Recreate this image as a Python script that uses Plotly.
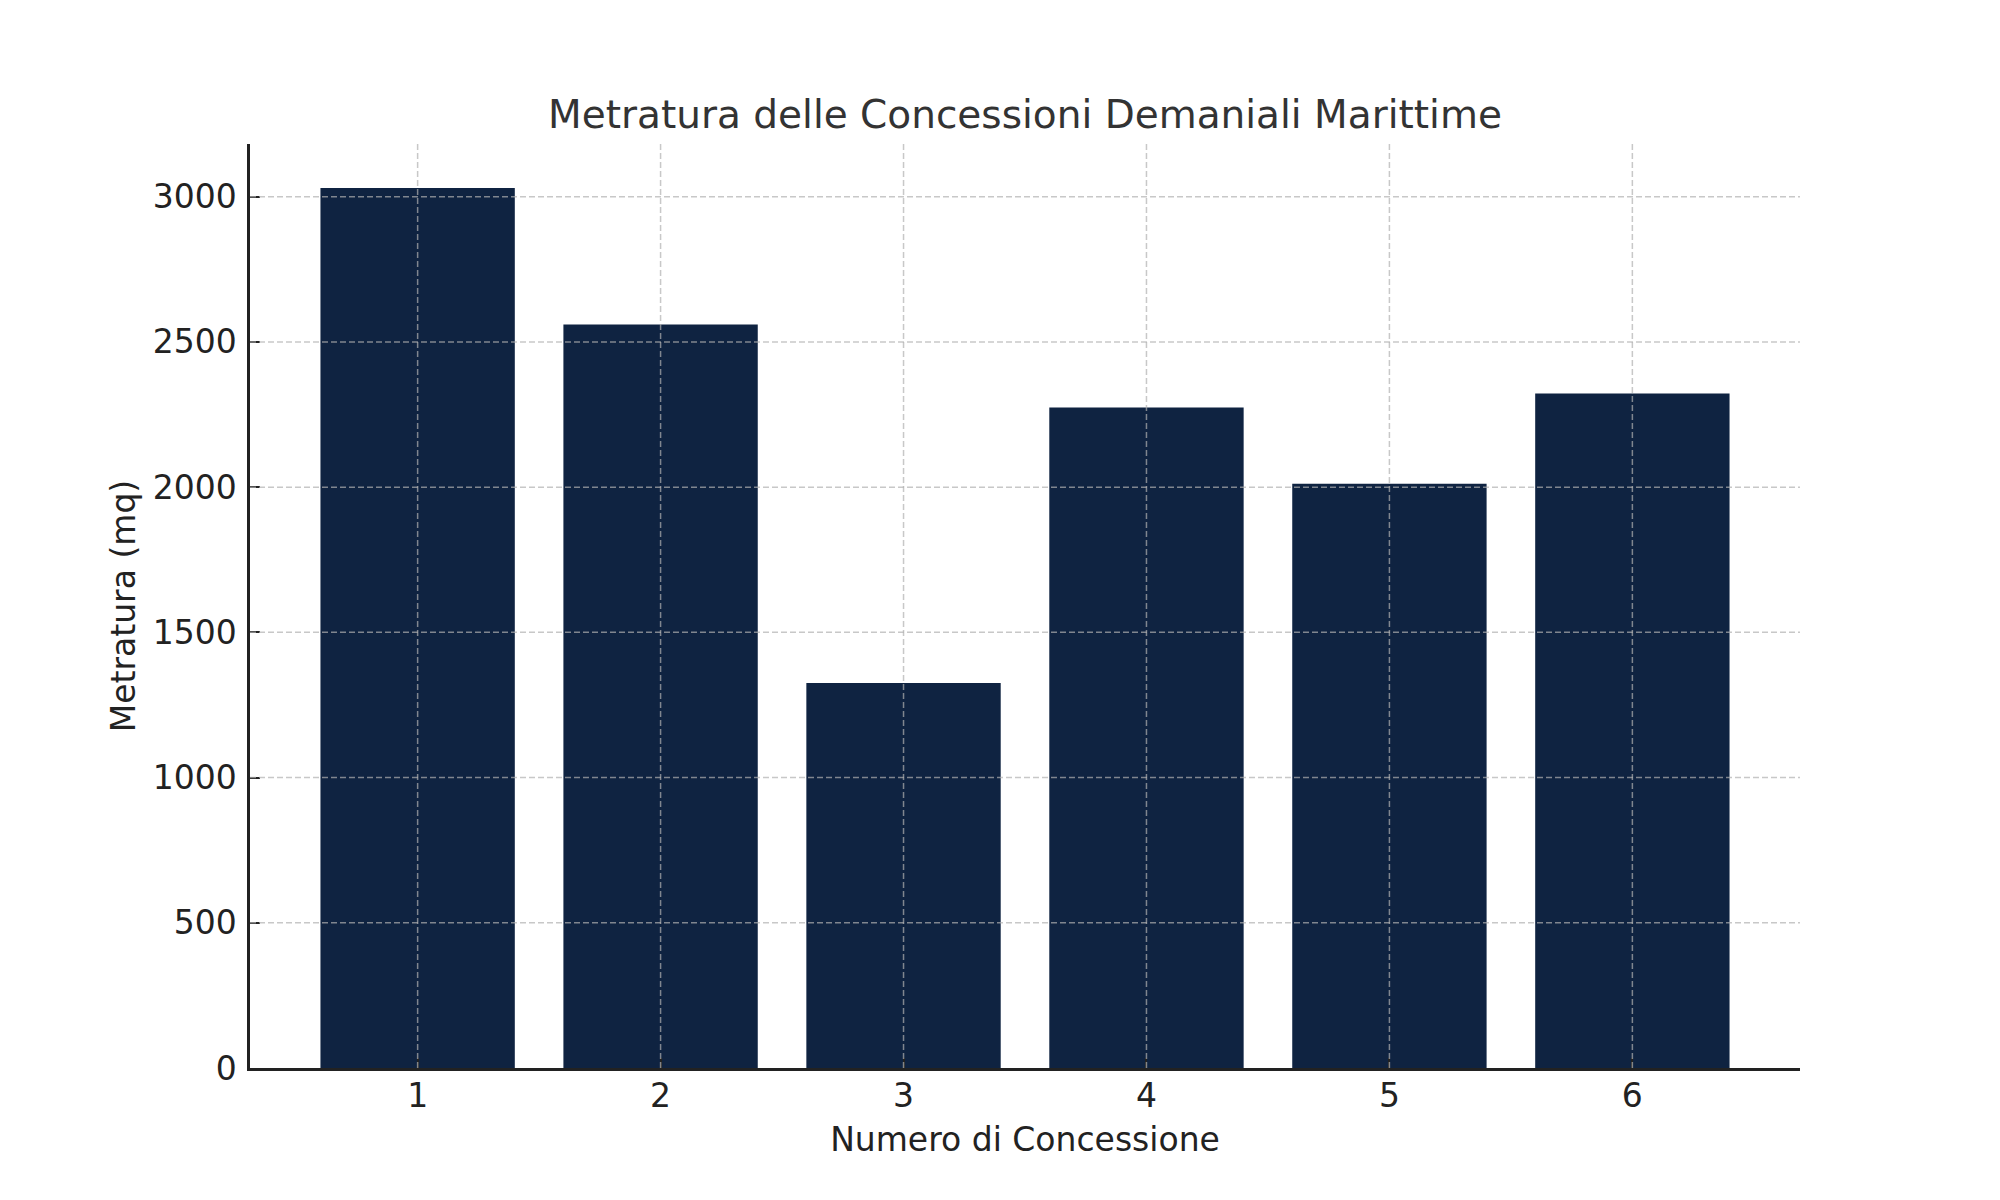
import plotly.graph_objects as go

concessioni = [1, 2, 3, 4, 5, 6]
metratura = [3030, 2560, 1326, 2274, 2012, 2322]
y_ticks = [0, 500, 1000, 1500, 2000, 2500, 3000]

title_text = "Metratura delle Concessioni Demaniali Marittime"
x_label = "Numero di Concessione"
y_label = "Metratura (mq)"

bar_color = "#0f2341"
grid_color = "rgba(176,176,176,0.7)"
font_family = "DejaVu Sans, Verdana, sans-serif"

fig = go.Figure()
fig.add_trace(go.Bar(
    x=concessioni,
    y=metratura,
    width=0.8,
    marker=dict(color=bar_color, line=dict(width=0)),
))

x_min = min(concessioni) - 0.4
x_max = max(concessioni) + 0.4
pad = (x_max - x_min) * 0.05
y_top = max(metratura) * 1.05

# Dashed grid drawn above the bars (as in the reference)
grid_line = dict(color=grid_color, width=1.5, dash="6px,3px")
for c in concessioni:
    fig.add_shape(type="line", xref="x", yref="paper", x0=c, x1=c, y0=0, y1=1,
                  line=grid_line, layer="above")
for v in y_ticks:
    if v == 0:
        continue
    fig.add_shape(type="line", xref="paper", yref="y", x0=0, x1=1, y0=v, y1=v,
                  line=grid_line, layer="above")

fig.update_layout(
    width=2000,
    height=1200,
    paper_bgcolor="white",
    plot_bgcolor="white",
    margin=dict(l=242, r=208, t=136, b=140, pad=0),
    showlegend=False,
    font=dict(family=font_family, size=33, color="#222222"),
    title=dict(
        text=title_text,
        x=(242 + 1792) / 2 / 2000,
        xanchor="center",
        y=1 - 106 / 1200,
        yanchor="middle",
        font=dict(size=39, color="#333333", family=font_family),
    ),
    bargap=0.2,
)

fig.update_xaxes(
    range=[x_min - pad, x_max + pad],
    tickmode="array",
    tickvals=concessioni,
    ticktext=[str(c) for c in concessioni],
    ticks="inside",
    ticklen=10,
    tickwidth=2,
    tickcolor="#222222",
    showline=True,
    linecolor="#222222",
    linewidth=2.5,
    showgrid=False,
    zeroline=False,
    layer="above traces",
    ticklabelstandoff=-3,
    tickfont=dict(size=33, color="#222222"),
    title=dict(text=x_label, font=dict(size=33, color="#222222"), standoff=14),
)

fig.update_yaxes(
    range=[0, y_top],
    tickmode="array",
    tickvals=y_ticks,
    ticktext=[str(v) for v in y_ticks],
    ticks="inside",
    ticklen=10,
    tickwidth=2,
    tickcolor="#222222",
    showline=True,
    linecolor="#222222",
    linewidth=2.5,
    showgrid=False,
    zeroline=False,
    layer="above traces",
    ticklabelstandoff=4,
    tickfont=dict(size=33, color="#222222"),
    title=dict(text=y_label, font=dict(size=33, color="#222222"), standoff=8),
)

fig.write_html("out.html")
